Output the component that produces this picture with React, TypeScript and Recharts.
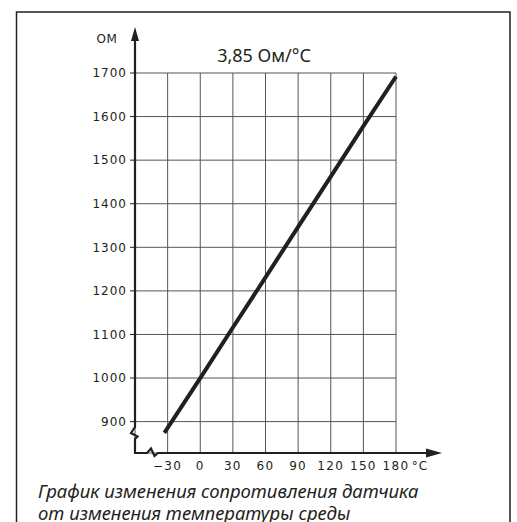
import { LineChart, Line, XAxis, YAxis, CartesianGrid } from 'recharts';

// temperature, °C
const temps = [-33, 0, 30, 60, 90, 120, 150, 180];
// resistance, Ом
const ohms = [874, 1000, 1116, 1231, 1347, 1462, 1578, 1692];
const xTicks = [-30, 0, 30, 60, 90, 120, 150, 180];
const yTicks = [900, 1000, 1100, 1200, 1300, 1400, 1500, 1600, 1700];

const data = temps.map((t, i) => ({ t, r: ohms[i] }));

const W = 517;
const H = 522;
const YW = 60;
const XH = 30;
const margin = { top: 73, right: 121, bottom: 69 - XH, left: 135 - YW };
const left = margin.left + YW;
const bottom = H - margin.bottom - XH;
const right = W - margin.right;
const ink = '#231f20';

function Overlay() {
  return (
    <svg width={W} height={H} style={{ position: 'absolute', left: 0, top: 0, pointerEvents: 'none' }}>
      <rect x={16.5} y={12} width={493.5} height={530} fill="none" stroke={ink} strokeWidth={1.5} />
      {/* y axis with break and arrow */}
      <polyline
        points={`${left},${bottom} ${left},439 ${left + 2.5},436.5 ${left - 4},433 ${left},427 ${left},38`}
        fill="none"
        stroke={ink}
        strokeWidth={2.2}
      />
      <polygon points={`${left},27 ${left - 4},41 ${left + 4},41`} fill={ink} />
      {/* x axis with break and arrow */}
      <polyline
        points={`${left - 1},${bottom} ${left + 12},${bottom} ${left + 16},${bottom - 4.5} ${left + 19.5},${bottom + 3} ${left + 23},${bottom} ${right + 32},${bottom}`}
        fill="none"
        stroke={ink}
        strokeWidth={2.2}
      />
      <polygon points={`${right + 46},${bottom} ${right + 30},${bottom - 4.5} ${right + 30},${bottom + 4.5}`} fill={ink} />
      <text x={107} y={43} textAnchor="middle" fontSize={12} fontFamily="DejaVu Sans" fill={ink} letterSpacing={0.5}>
        OM
      </text>
      <text x={264} y={62} textAnchor="middle" fontSize={18} fontFamily="Noto Sans" fill={ink}>
        3,85 Ом/°C
      </text>
      <text x={right + 24} y={470} textAnchor="middle" fontSize={12} fontFamily="DejaVu Sans" fill={ink} letterSpacing={1}>
        °C
      </text>
      <text x={38} y={498} fontSize={18.5} fontStyle="italic" fontFamily="Noto Sans" fill={ink}>
        График изменения сопротивления датчика
      </text>
      <text x={38} y={520} fontSize={18.5} fontStyle="italic" fontFamily="Noto Sans" fill={ink}>
        от изменения температуры среды
      </text>
    </svg>
  );
}

export default function App() {
  return (
    <div style={{ position: 'absolute', left: 0, top: 0, width: W, height: H, background: '#fff', overflow: 'hidden' }}>
      <LineChart width={W} height={H} data={data} margin={margin}>
        <CartesianGrid stroke="#555" strokeWidth={1} />
        <XAxis
          dataKey="t"
          type="number"
          domain={[-60, 180]}
          ticks={xTicks}
          height={XH}
          axisLine={false}
          tickLine={false}
          tickSize={6}
          tickMargin={2}
          tickFormatter={(v: number) => (v < 0 ? `−${Math.abs(v)}` : `${v}`)}
          tick={{ fill: ink, fontSize: 12, fontFamily: 'DejaVu Sans', letterSpacing: 1.3 }}
        />
        <YAxis
          type="number"
          domain={[828, 1700]}
          ticks={yTicks}
          width={YW}
          axisLine={false}
          tickSize={5}
          tickMargin={3}
          tickLine={{ stroke: ink, strokeWidth: 1 }}
          tick={{ fill: ink, fontSize: 12, fontFamily: 'DejaVu Sans', letterSpacing: 1 }}
        />
        <Line dataKey="r" stroke={ink} strokeWidth={4} dot={false} isAnimationActive={false} />
      </LineChart>
      <Overlay />
    </div>
  );
}
